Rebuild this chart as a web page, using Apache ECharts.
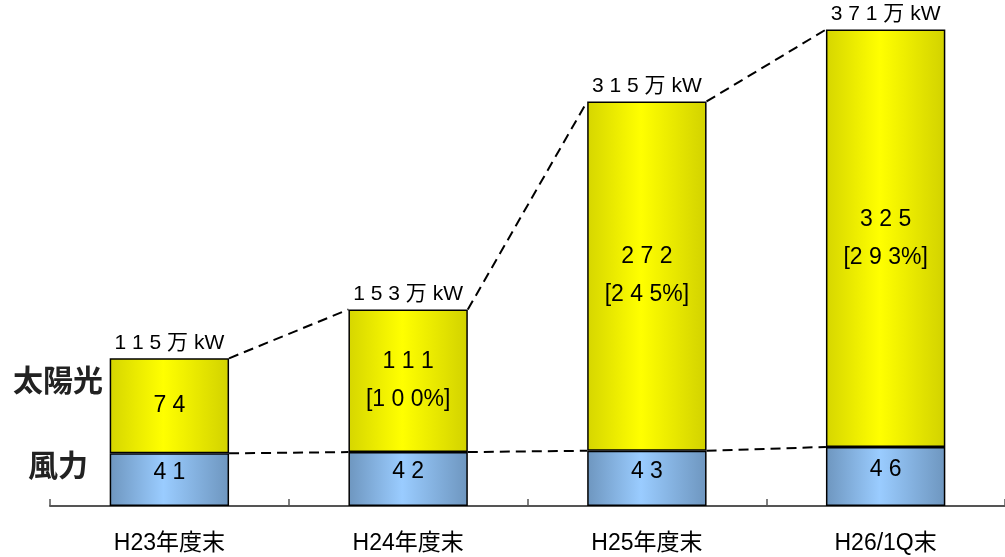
<!DOCTYPE html>
<html>
<head>
<meta charset="utf-8">
<script src="https://cdn.jsdelivr.net/npm/echarts@6/dist/echarts.min.js"></script>
<style>
  html, body { margin: 0; padding: 0; background: #fff; }
  #chart { width: 1005px; height: 557px; }
</style>
</head>
<body>
<div id="chart"></div>
<script>
// Installed capacity (万kW) of wind and solar at each period end
const categories = ['H23年度末', 'H24年度末', 'H25年度末', 'H26/1Q末'];
const wind = [41, 42, 43, 46];
const solar = [74, 111, 272, 325];
// Solar growth vs. H24年度末 (shown in brackets)
const solarRatio = [null, 100, 245, 293];

const totals = wind.map((w, i) => w + solar[i]);

const FONT = '"Liberation Sans", Arial, "Noto Sans CJK JP", sans-serif';
const spaced = s => String(s).split('').join(' ');

const yellowFill = new echarts.graphic.LinearGradient(0, 0, 1, 0, [
  { offset: 0, color: '#d6d600' },
  { offset: 0.45, color: '#ffff00' },
  { offset: 1, color: '#d2d200' }
]);
const blueFill = new echarts.graphic.LinearGradient(0, 0, 1, 0, [
  { offset: 0, color: '#6e96bf' },
  { offset: 0.45, color: '#9accff' },
  { offset: 1, color: '#6e96bf' }
]);

// Dashed connector from one bar's top-right corner to the next bar's top-left corner
function connectorSeries(levels) {
  const segs = [];
  for (let i = 0; i < levels.length - 1; i++) segs.push([i, levels[i], levels[i + 1]]);
  return {
    type: 'custom',
    data: segs,
    z: 5,
    silent: true,
    renderItem: function (params, api) {
      const i = api.value(0);
      const a = api.coord([i, api.value(1)]);
      const b = api.coord([i + 1, api.value(2)]);
      const half = api.size([1, 0])[0] * 0.25;
      return {
        type: 'line',
        shape: { x1: a[0] + half, y1: a[1], x2: b[0] - half, y2: b[1] },
        style: { stroke: '#000', lineWidth: 2, lineDash: [10, 6] }
      };
    }
  };
}

const chart = echarts.init(document.getElementById('chart'));
chart.setOption({
  animation: false,
  backgroundColor: '#fff',
  grid: { left: 50, right: -9, top: 18, bottom: 51 },
  xAxis: {
    type: 'category',
    data: categories,
    boundaryGap: true,
    axisLine: { lineStyle: { color: '#555', width: 2 } },
    axisTick: { show: true, inside: true, length: 7, lineStyle: { color: '#555', width: 1.5 } },
    axisLabel: { color: '#000', fontSize: 23, fontFamily: FONT, margin: 26 }
  },
  yAxis: {
    type: 'value',
    min: 0,
    max: 380,
    show: false,
    splitLine: { show: false }
  },
  series: [
    {
      name: '風力',
      type: 'bar',
      stack: 'cap',
      barWidth: '50%',
      data: wind,
      itemStyle: { color: blueFill, borderColor: '#000', borderWidth: 1.5 },
      label: {
        show: true,
        position: 'inside',
        offset: [0, -7],
        color: '#000',
        fontSize: 23,
        fontFamily: FONT,
        formatter: p => spaced(p.value)
      }
    },
    {
      name: '太陽光',
      type: 'bar',
      stack: 'cap',
      barWidth: '50%',
      data: solar,
      itemStyle: { color: yellowFill, borderColor: '#000', borderWidth: 1.5 },
      label: {
        show: true,
        position: 'inside',
        color: '#000',
        fontSize: 23,
        lineHeight: 38,
        fontFamily: FONT,
        formatter: p => {
          const r = solarRatio[p.dataIndex];
          const top = spaced(p.value);
          return r == null ? top : top + '\n[' + spaced(r) + '%]';
        }
      }
    },
    connectorSeries(wind),
    connectorSeries(totals),
    {
      // Total capacity above each bar
      type: 'custom',
      data: totals.map((t, i) => [i, t]),
      z: 6,
      silent: true,
      renderItem: function (params, api) {
        const p = api.coord([api.value(0), api.value(1)]);
        return {
          type: 'text',
          x: p[0],
          y: p[1] - 5,
          style: {
            text: spaced(api.value(1)) + ' 万 kW',
            fill: '#000',
            fontSize: 21,
            fontFamily: FONT,
            align: 'center',
            verticalAlign: 'bottom'
          }
        };
      }
    }
  ],
  graphic: [
    {
      type: 'text', left: 13, top: 365,
      style: { text: '太陽光', fill: '#222', fontSize: 30, fontWeight: 'bold', fontFamily: '"Noto Sans CJK JP", sans-serif' }
    },
    {
      type: 'text', left: 28, top: 450,
      style: { text: '風力', fill: '#222', fontSize: 30, fontWeight: 'bold', fontFamily: '"Noto Sans CJK JP", sans-serif' }
    }
  ]
});
</script>
</body>
</html>
